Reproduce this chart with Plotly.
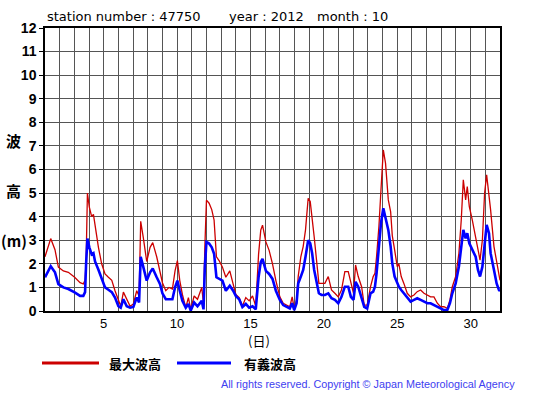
import plotly.graph_objects as go

# ---- data (day of month, wave heights in m) ----
days = [1.0, 1.39, 1.68, 1.91, 2.25, 2.59, 3.02, 3.39, 3.61, 3.73, 3.8, 3.89, 4.02, 4.18, 4.3, 4.41,
        4.64, 4.86, 5.09, 5.32, 5.55, 5.77, 6.0, 6.16, 6.34, 6.57, 6.8, 7.02, 7.25, 7.41, 7.52, 7.7,
        7.93, 8.16, 8.34, 8.61, 8.84,
        9.0, 9.23, 9.45, 9.68, 9.86, 10.02, 10.18, 10.36, 10.59, 10.77, 10.93, 11.16, 11.39, 11.68,
        11.8, 11.89, 12.0, 12.18, 12.36, 12.52, 12.68, 12.86, 13.09, 13.32, 13.59, 13.82, 14.0, 14.23,
        14.45, 14.68, 14.91, 15.14, 15.36, 15.55, 15.7, 15.82, 16.05, 16.27, 16.5, 16.73,
        17.0, 17.23, 17.45, 17.68, 17.84, 17.98, 18.14, 18.25, 18.43, 18.59, 18.75, 18.93, 19.07,
        19.2, 19.34, 19.5, 19.66, 19.84, 20.07, 20.3, 20.52, 20.75, 20.98, 21.2, 21.43, 21.66, 21.84,
        22.02, 22.16, 22.34, 22.57, 22.75, 22.95, 23.18, 23.36, 23.48, 23.59, 23.75, 23.89, 24.05,
        24.2, 24.39,
        24.55, 24.66, 24.82, 25.0, 25.11, 25.27, 25.45, 25.68, 25.91, 26.14, 26.36, 26.59, 26.82,
        27.05, 27.27, 27.5, 27.73, 27.95, 28.18, 28.41, 28.59, 28.75, 28.98, 29.2, 29.36, 29.5,
        29.66, 29.77, 29.91, 30.11, 30.34, 30.5, 30.64, 30.8, 30.95, 31.09, 31.25, 31.36, 31.59,
        31.77, 31.93, 32.0]

max_wave = [2.3, 3.07, 2.6, 1.86, 1.7, 1.64, 1.43, 1.2, 1.15, 1.3, 2.1, 5.0, 4.4, 4.0, 4.1, 3.57,
            2.7, 2.0, 1.57, 1.43, 1.3, 0.86, 0.43, 0.2, 0.8, 0.5, 0.2, 0.3, 0.86, 0.64, 3.8, 3.1,
            2.1, 2.7, 2.9, 2.3, 1.7,
            1.2, 0.86, 1.0, 0.93, 1.7, 2.14, 1.3, 0.7, 0.14, 0.57, 0.07, 0.64, 0.5, 1.0,
            0.3, 2.7, 4.7, 4.57, 4.3, 3.86, 2.3, 2.14, 1.86, 1.43, 1.7, 1.14, 0.7, 0.57,
            0.2, 0.57, 0.43, 0.64, 0.2, 2.4, 3.43, 3.64, 2.93, 2.57, 2.0, 1.29,
            0.6, 0.33, 0.25, 0.18, 0.6, 0.11, 0.47, 1.46, 2.3, 2.73, 3.44, 4.78, 4.64,
            4.0, 3.15, 2.16, 1.17, 1.17, 1.17, 1.46, 0.89, 0.75, 0.6, 0.89, 1.67, 1.67, 1.17,
            0.75, 1.95, 1.46, 1.03, 0.25, 0.25, 1.03, 1.46, 1.6, 2.3, 3.58, 5.13, 6.83,
            6.27, 4.71,
            4.2, 3.2, 2.59, 1.88, 2.0, 1.46, 1.17, 0.75, 0.6, 0.68, 0.82, 0.89, 0.75,
            0.68, 0.6, 0.6, 0.33, 0.18, 0.18, 0.11, 0.47, 1.03, 1.46, 2.45, 3.86, 5.56,
            4.71, 5.28, 4.43, 3.86, 3.15, 2.73, 2.16, 3.01, 4.99, 5.77, 4.99, 4.29, 2.73,
            2.02, 1.46, 1.3]

sig_wave = [1.43, 1.9, 1.64, 1.14, 1.0, 0.93, 0.79, 0.64, 0.64, 0.8, 2.0, 3.07, 2.7, 2.4, 2.45, 2.1,
            1.75, 1.4, 1.0, 0.9, 0.8, 0.57, 0.21, 0.14, 0.5, 0.2, 0.14, 0.17, 0.57, 0.36, 2.3, 1.86,
            1.29, 1.64, 1.8, 1.43, 1.14,
            0.75, 0.5, 0.5, 0.5, 1.0, 1.29, 0.86, 0.43, 0.14, 0.3, 0.02, 0.36, 0.2, 0.43,
            0.07, 1.86, 2.93, 2.86, 2.7, 2.43, 1.43, 1.36, 1.29, 0.86, 1.07, 0.86, 0.64, 0.5,
            0.17, 0.3, 0.14, 0.2, 0.07, 1.43, 2.07, 2.21, 1.7, 1.57, 1.36, 0.86,
            0.47, 0.25, 0.18, 0.11, 0.33, 0.04, 0.33, 1.17, 1.46, 1.74, 2.3, 3.0, 2.87,
            2.45, 1.74, 1.17, 0.75, 0.68, 0.68, 0.75, 0.54, 0.47, 0.33, 0.6, 1.03, 1.03, 0.6,
            0.47, 1.24, 1.03, 0.6, 0.18, 0.11, 0.75, 0.82, 1.03, 1.6, 2.87, 3.72, 4.36,
            4.0, 3.44,
            2.73, 2.02, 1.46, 1.17, 1.03, 0.89, 0.75, 0.54, 0.4, 0.47, 0.54, 0.47, 0.4,
            0.33, 0.33, 0.25, 0.18, 0.11, 0.04, 0.04, 0.33, 0.75, 1.17, 1.88, 2.73, 3.44,
            3.08, 3.3, 2.87, 2.59, 2.3, 1.74, 1.46, 1.88, 2.87, 3.65, 3.3, 2.45, 1.74,
            1.17, 0.89, 0.85]

x_tick_vals = [5, 10, 15, 20, 25, 30]
y_tick_vals = list(range(0, 13))

RED = "#cc0000"
BLUE = "#0000ff"
FONT = "Liberation Sans, Arial, sans-serif"
TITLE_FONT = "DejaVu Sans, sans-serif"
CJK = "Noto Sans CJK JP, sans-serif"

fig = go.Figure()
fig.add_trace(go.Scatter(x=days, y=max_wave, mode="lines", name="最大波高",
                         line=dict(color=RED, width=1.3), showlegend=False))
fig.add_trace(go.Scatter(x=days, y=sig_wave, mode="lines", name="有義波高",
                         line=dict(color=BLUE, width=2.6), showlegend=False))

L, R, T, B = 45, 55, 28, 84
W, H = 555, 395
pw, ph = W - L - R, H - T - B

def px(x):
    return (x - L) / pw

def py(y):
    return (H - B - y) / ph

fig.update_layout(
    width=W, height=H,
    margin=dict(l=L, r=R, t=T, b=B, pad=0),
    paper_bgcolor="white", plot_bgcolor="white",
    font=dict(family=FONT, color="black"),
    xaxis=dict(range=[1, 32], tickmode="array", tickvals=x_tick_vals,
               ticktext=[str(v) for v in x_tick_vals],
               showgrid=True, gridcolor="#555555", gridwidth=1,
               minor=dict(dtick=1, tick0=1, showgrid=True, gridcolor="#555555", gridwidth=1),
               zeroline=False, showline=True, linecolor="black", linewidth=1.5, mirror=True,
               ticks="", ticklabelstandoff=0, tickfont=dict(size=13, family=FONT), fixedrange=True),
    yaxis=dict(range=[0, 12], tickmode="array", tickvals=y_tick_vals,
               showgrid=True, gridcolor="#555555", gridwidth=1,
               zeroline=False, showline=True, linecolor="black", linewidth=1.5, mirror=True,
               ticks="outside", ticklen=4, tickcolor="black",
               tickfont=dict(size=14, family=FONT, weight="bold"), fixedrange=True),
)

ann = []
def text(x, y, s, size, xanchor="left", color="black", family=FONT, bold=False):
    ann.append(dict(x=px(x), y=py(y), xref="paper", yref="paper", text=s, showarrow=False,
                    xanchor=xanchor, yanchor="middle",
                    font=dict(size=size, color=color, family=family,
                              weight="bold" if bold else "normal")))

text(45, 17, "station number : 47750", 13, family=TITLE_FONT)
text(227, 17, "year : 2012", 13, family=TITLE_FONT)
text(315, 17, "month : 10", 13, family=TITLE_FONT)
text(13, 140, "波", 15, xanchor="center", family=CJK, bold=True)
text(13, 190, "高", 15, xanchor="center", family=CJK, bold=True)
text(14, 240, "(m)", 15, xanchor="center", family=CJK, bold=True)
text(259, 340, "(日)", 13, xanchor="center", family=CJK)
text(107, 363, "最大波高", 13, family=CJK, bold=True)
text(242, 363, "有義波高", 13, family=CJK, bold=True)
text(517, 384, "All rights reserved. Copyright © Japan Meteorological Agency", 10.8,
     xanchor="right", color="#4040f0")
fig.update_layout(annotations=ann)

fig.update_layout(shapes=[
    dict(type="line", xref="paper", yref="paper", x0=px(42), x1=px(99), y0=py(363), y1=py(363),
         line=dict(color=RED, width=3)),
    dict(type="line", xref="paper", yref="paper", x0=px(177), x1=px(231), y0=py(363), y1=py(363),
         line=dict(color=BLUE, width=3)),
])

fig.write_html("out.html", config={"displayModeBar": False},
               post_script="document.body.style.margin='0px';document.body.style.padding='0px';")
